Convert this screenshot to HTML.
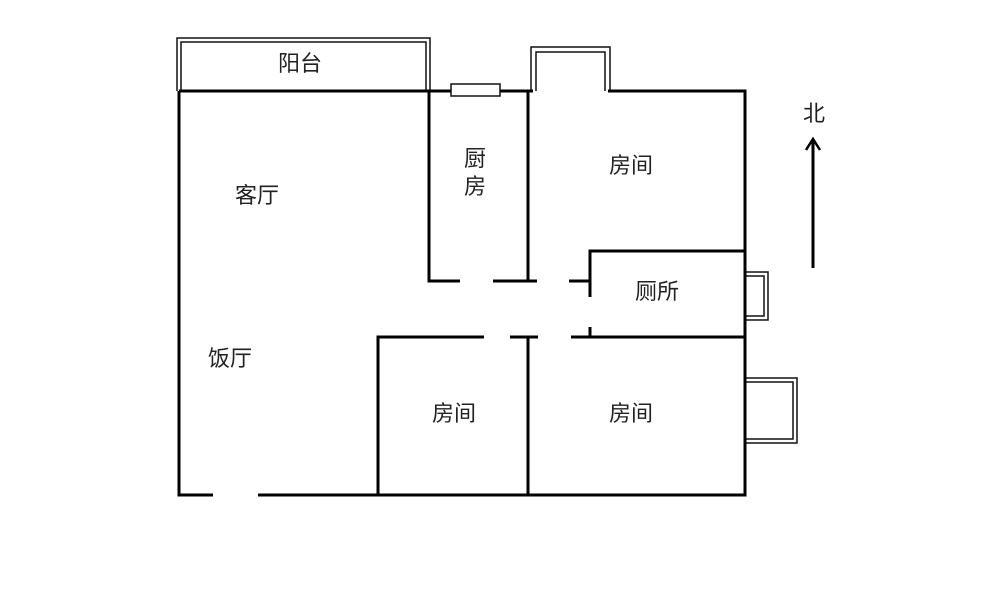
<!DOCTYPE html>
<html><head><meta charset="utf-8"><style>
html,body{margin:0;padding:0;background:#fff;width:1000px;height:607px;overflow:hidden}
text{font-family:"Liberation Sans","Noto Sans CJK SC",sans-serif;font-size:22px;fill:#222}
</style></head><body>
<svg width="1000" height="607" viewBox="0 0 1000 607" xmlns="http://www.w3.org/2000/svg">
<g fill="none" stroke="#111" stroke-width="1.5">
<!-- balcony double line -->
<path d="M177 91 V38 H430 V91"/>
<path d="M181 91 V42 H426 V91"/>
<!-- top bay -->
<path d="M531 91 V47 H610 V91"/>
<path d="M536 91 V52 H605 V91"/>
<!-- kitchen window -->
<rect x="451" y="84" width="49" height="12" fill="#fff"/>
<!-- toilet window -->
<path d="M745 272 H768 V320 H745"/>
<path d="M745 276 H764 V316 H745"/>
<!-- bay right -->
<path d="M745 378 H797 V443 H745"/>
<path d="M745 382 H793 V439 H745"/>
</g>
<g fill="none" stroke="#000" stroke-width="3">
<path d="M179 91 H451 M500 91 H533 M608 91 H745 V495 H258"/>
<path d="M213 495 H179 V91"/>
<path d="M429 91 V281 H460 M493 281 H537 M528 91 V281 M569 281 H590"/>
<path d="M590 297 V251 H745"/>
<path d="M590 327 V337 M571 337 H745"/>
<path d="M378 495 V337 H484 M510 337 H538 M528 337 V495"/>
<path d="M813 268 V140"/>
<path d="M806 150 L813 139 L820 150" stroke-width="2.5"/>
</g>
<text x="300" y="71" text-anchor="middle">阳台</text>
<text x="475" y="166" text-anchor="middle">厨</text>
<text x="475" y="194" text-anchor="middle">房</text>
<text x="631" y="173" text-anchor="middle">房间</text>
<text x="257" y="203" text-anchor="middle">客厅</text>
<text x="657" y="299" text-anchor="middle">厕所</text>
<text x="230" y="366" text-anchor="middle">饭厅</text>
<text x="454" y="421" text-anchor="middle">房间</text>
<text x="631" y="421" text-anchor="middle">房间</text>
<text x="814" y="121" text-anchor="middle">北</text>
</svg>
</body></html>
